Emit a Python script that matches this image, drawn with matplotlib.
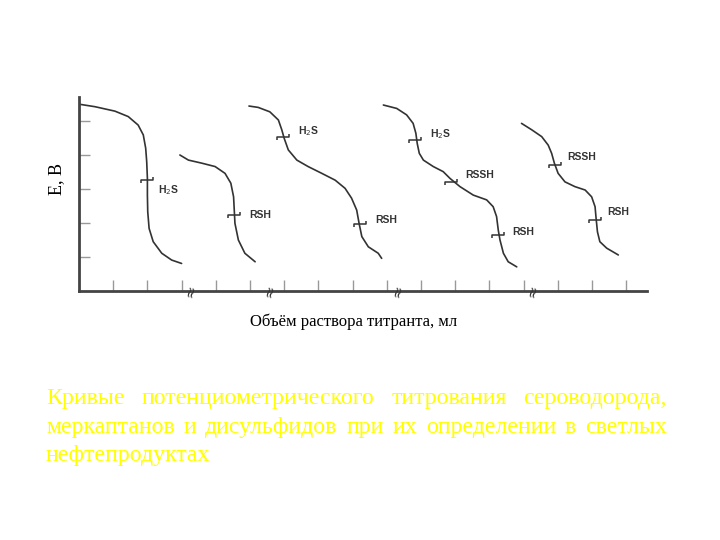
import matplotlib
matplotlib.use("Agg")
import matplotlib.pyplot as plt
from matplotlib.path import Path

# titration curves (x = volume in tick units, y = E in tick units)
h2s_x = [0.03, 0.47, 1.05, 1.44, 1.73, 1.88, 1.95, 1.98, 2.00, 2.00, 2.01, 2.05, 2.17, 2.42, 2.71, 3.00]
h2s_y = [5.49, 5.42, 5.29, 5.13, 4.88, 4.59, 4.20, 3.80, 3.31, 2.82, 2.33, 1.84, 1.45, 1.11, 0.91, 0.81]

rsh_x = [2.95, 3.20, 3.59, 3.98, 4.27, 4.44, 4.52, 4.54, 4.56, 4.66, 4.85, 5.15]
rsh_y = [4.00, 3.85, 3.76, 3.66, 3.46, 3.17, 2.77, 2.38, 1.99, 1.50, 1.11, 0.86]

h2s_rsh_x = [4.97, 5.24, 5.58, 5.83, 5.93, 6.00, 6.12, 6.37, 6.70, 7.10, 7.49, 7.78, 7.97,
             8.12, 8.19, 8.27, 8.46, 8.75, 8.85]
h2s_rsh_y = [5.44, 5.40, 5.27, 5.03, 4.74, 4.49, 4.15, 3.85, 3.66, 3.46, 3.26, 3.02, 2.73,
             2.38, 1.99, 1.60, 1.30, 1.11, 0.96]

mix_x = [8.90, 9.29, 9.58, 9.77, 9.85, 9.89, 9.95, 10.07, 10.36, 10.65, 10.85, 11.14, 11.53,
         11.92, 12.11, 12.21, 12.26, 12.31, 12.41, 12.55, 12.80]
mix_y = [5.47, 5.37, 5.18, 4.93, 4.64, 4.34, 4.05, 3.85, 3.66, 3.51, 3.31, 3.07, 2.82,
         2.68, 2.48, 2.19, 1.79, 1.50, 1.11, 0.86, 0.71]

rssh_rsh_x = [12.94, 13.24, 13.53, 13.72, 13.82, 13.90, 14.01, 14.21, 14.50, 14.80, 14.99,
              15.09, 15.12, 15.16, 15.23, 15.43, 15.77]
rssh_rsh_y = [4.93, 4.74, 4.54, 4.29, 4.05, 3.76, 3.46, 3.21, 3.07, 2.97, 2.77,
              2.48, 2.14, 1.74, 1.45, 1.26, 1.06]

curves = [(h2s_x, h2s_y), (rsh_x, rsh_y), (h2s_rsh_x, h2s_rsh_y), (mix_x, mix_y), (rssh_rsh_x, rssh_rsh_y)]

# equivalence points
ep_x = [1.99, 4.53, 5.96, 8.22, 9.82, 10.88, 12.25, 13.92, 15.09]
ep_y = [3.26, 2.24, 4.54, 1.97, 4.44, 3.21, 1.65, 3.71, 2.09]
ep_text = ["H$_2$S", "RSH", "H$_2$S", "RSH", "H$_2$S", "RSSH", "RSH", "RSSH", "RSH"]
ep_offset = [(8, -7), (11, 0), (11, 4), (11, 3), (11, 4), (10, 5), (10, 2), (9, 6), (9, 6)]

break_x = [3.25, 5.58, 9.30, 13.27]

caption = ["Кривые потенциометрического титрования сероводорода,",
           "меркаптанов и дисульфидов при их определении в светлых",
           "нефтепродуктах"]

fig = plt.figure(figsize=(7.2, 5.4), dpi=100)
ax = fig.add_axes([79 / 720, 249 / 540, 567.7 / 720, 193.8 / 540])
ax.set_xlim(0, 16.6)
ax.set_ylim(0, 5.7)
for s in ["top", "right"]:
    ax.spines[s].set_visible(False)
for s in ["left", "bottom"]:
    ax.spines[s].set_linewidth(2)
    ax.spines[s].set_color("#444444")
ax.set_xticks(range(1, 17))
ax.set_yticks(range(1, 6))
ax.tick_params(direction="in", length=8, width=1, color="#999999",
               labelbottom=False, labelleft=False)

for cx, cy in curves:
    ax.plot(cx, cy, color="#333333", lw=1.2, solid_capstyle="round", solid_joinstyle="round")

step = Path([(-1, -0.6), (-1, 0), (1, 0), (1, 0.6)],
            [Path.MOVETO, Path.LINETO, Path.LINETO, Path.LINETO])
ax.plot(ep_x, ep_y, ls="none", marker=step, ms=8, mew=1.1, mec="#333333", mfc="none")
for x, y, t, off in zip(ep_x, ep_y, ep_text, ep_offset):
    ax.annotate(t, (x, y), xytext=off, textcoords="offset points", ha="left", va="center",
                fontsize=7.5, fontweight="bold", color="#333333", family="Liberation Sans")

for bx in break_x:
    ax.text(bx, 0, "\u2248", rotation=75, ha="center", va="center", fontsize=11,
            color="#333333", clip_on=False)

ax.set_ylabel("Е, В", family="Liberation Serif", fontsize=13, va="center")
ax.yaxis.set_label_coords(-0.039, 0.58)
ax.set_xlabel("Объём раствора титранта, мл", family="Liberation Serif", fontsize=12, va="center")
ax.xaxis.set_label_coords(0.483, -0.16)

# justified yellow caption
renderer = fig.canvas.get_renderer()
left, right = 46, 667
baselines = [404, 433, 461]
for i, (line, base) in enumerate(zip(caption, baselines)):
    words = line.split()
    texts = [fig.text(0, 1 - base / 540, w, family="Liberation Serif", fontsize=17.2,
                      color="#ffff00", va="baseline", ha="left") for w in words]
    widths = [t.get_window_extent(renderer).width for t in texts]
    if i < len(caption) - 1 and len(words) > 1:
        gap = (right - left - sum(widths)) / (len(words) - 1)
    else:
        gap = 0
    x = left
    for t, w in zip(texts, widths):
        t.set_x(x / 720)
        x += w + gap

fig.savefig("out.png", dpi=100)
